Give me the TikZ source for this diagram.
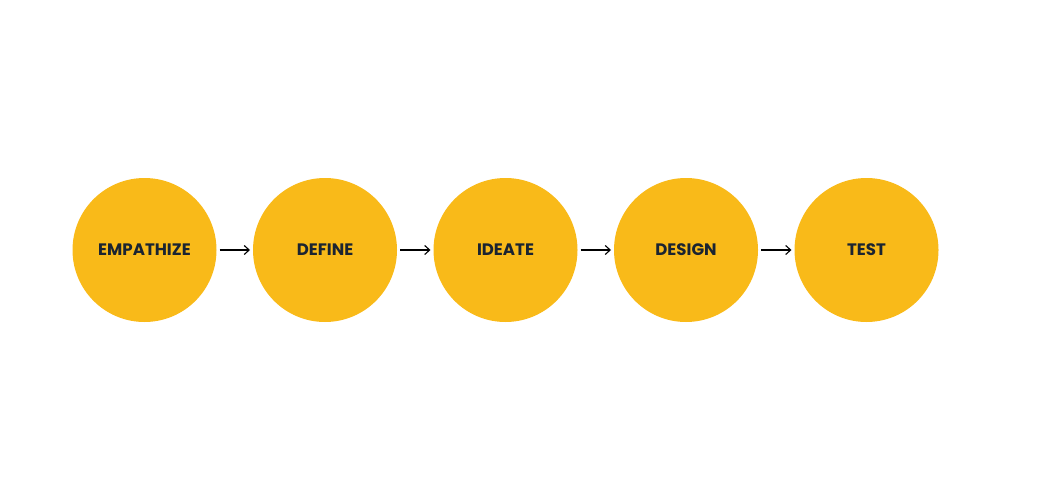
\documentclass[tikz,border=0pt]{standalone}
\usepackage{fontspec}
\setmainfont{Poppins}
\usetikzlibrary{arrows.meta}
\definecolor{stepfill}{HTML}{F9BA19}
\definecolor{steptext}{HTML}{1B2431}
\begin{document}
\begin{tikzpicture}[x=1pt,y=-1pt,
  stage/.style={circle,fill=stepfill,draw=none,minimum size=144pt,inner sep=0pt,outer sep=3pt,
    font=\fontsize{16.6}{18}\selectfont\bfseries,text=steptext},
  link/.style={-{Straight Barb[length=5pt,width=9pt]},line width=1.1pt,black}]
\useasboundingbox (0,0) rectangle (1040,500);
\node[stage] (e) at (144.5,250) {EMPATHIZE};
\node[stage] (d) at (325,250) {DEFINE};
\node[stage] (i) at (505.5,250) {IDEATE};
\node[stage] (g) at (686,250) {DESIGN};
\node[stage] (t) at (866.5,250) {TEST};
\draw[link] (e) -- (d);
\draw[link] (d) -- (i);
\draw[link] (i) -- (g);
\draw[link] (g) -- (t);
\end{tikzpicture}
\end{document}
